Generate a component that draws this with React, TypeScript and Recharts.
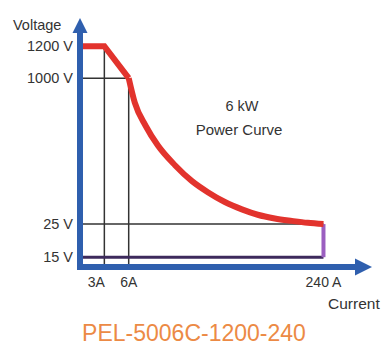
import React from 'react';
import { ComposedChart, Line, XAxis, YAxis, ReferenceLine, ReferenceDot } from 'recharts';

// This is a schematic chart, the axes are not to scale. Values are kept in chart
// units (x 0-115, y 0-95) and the real ratings only show up as tick labels.
const currentTicks = [10, 20, 100];
const currentLabels = ['3A', '6A', '240 A'];
const voltageTicks = [4, 17.5, 77, 90];
const voltageLabels = ['15 V', '25 V', '1000 V', '1200 V'];

// max voltage / max current corner up to 6A
const limitX = [0, 10, 20];
const limitY = [90, 90, 77];

// 6 kW power curve down to 240 A
const curveX = [20, 22.5, 27, 32, 39, 46, 52.5, 59.5, 66.5, 73, 80, 87, 93.5, 100];
const curveY = [77, 67, 57.5, 49.5, 41.5, 35, 30.5, 26.5, 23.5, 21.3, 19.8, 18.8, 18, 17.5];

const BLUE = '#2f5fae';
const RED = '#e2332d';
const PURPLE = '#9b5fc0';
const FONT = '"Liberation Sans", Arial, sans-serif';

const toPoints = (xs: number[], ys: number[]) => xs.map((x, i) => ({ x, y: ys[i] }));

const lastX = curveX[curveX.length - 1];
const lastY = curveY[curveY.length - 1];
const limitData = toPoints(limitX, limitY);
const curveData = toPoints(curveX, curveY);
const minVoltData = toPoints([0, lastX], [voltageTicks[0], voltageTicks[0]]);
const maxCurrentData = toPoints([lastX, lastX], [lastY, voltageTicks[0]]);

function XTick(props: any) {
  const { x, y, payload } = props;
  const i = currentTicks.indexOf(payload.value);
  const dx = i === 0 ? -8 : 0;
  return (
    <text x={x + dx} y={y} dy="0.71em" textAnchor="middle" fill="#333" fontSize={14} fontFamily={FONT}>
      {currentLabels[i]}
    </text>
  );
}

const xArrow = (p: any) => (
  <polygon points={`${p.cx - 5},${p.cy - 8.5} ${p.cx + 12},${p.cy} ${p.cx - 5},${p.cy + 8.5}`} fill={BLUE} />
);
const yArrow = (p: any) => (
  <polygon points={`${p.cx - 7.5},${p.cy - 1} ${p.cx},${p.cy - 16} ${p.cx + 7.5},${p.cy - 1}`} fill={BLUE} />
);

const textStyle: React.CSSProperties = {
  position: 'absolute',
  fontFamily: FONT,
  color: '#333',
  lineHeight: 1,
  whiteSpace: 'nowrap',
};

export default function App() {
  return (
    <div style={{ position: 'absolute', left: 0, top: 0, width: 382, height: 347, background: '#fff' }}>
      <ComposedChart width={382} height={347} margin={{ top: 34, right: 22, bottom: 50, left: 0 }}>
        <XAxis
          type="number"
          dataKey="x"
          domain={[0, 115]}
          ticks={currentTicks}
          interval={0}
          tick={XTick}
          tickLine={false}
          tickSize={4}
          tickMargin={6}
          height={30}
          axisLine={{ stroke: BLUE, strokeWidth: 6, strokeLinecap: 'square' }}
        />
        <YAxis
          type="number"
          dataKey="y"
          domain={[0, 95]}
          ticks={voltageTicks}
          interval={0}
          width={80}
          tickLine={false}
          tickSize={3}
          tickMargin={4}
          tickFormatter={(v: number) => voltageLabels[voltageTicks.indexOf(v)]}
          tick={{ fill: '#333', fontSize: 14.5, fontFamily: FONT }}
          axisLine={{ stroke: BLUE, strokeWidth: 6, strokeLinecap: 'square' }}
        />
        <ReferenceLine segment={[{ x: currentTicks[0], y: 0 }, { x: currentTicks[0], y: voltageTicks[3] }]} stroke="#333" strokeWidth={1.5} />
        <ReferenceLine segment={[{ x: currentTicks[1], y: 0 }, { x: currentTicks[1], y: voltageTicks[2] }]} stroke="#333" strokeWidth={1.5} />
        <ReferenceLine segment={[{ x: 0, y: voltageTicks[2] }, { x: currentTicks[1], y: voltageTicks[2] }]} stroke="#333" strokeWidth={1.5} />
        <ReferenceLine segment={[{ x: 0, y: voltageTicks[1] }, { x: currentTicks[2], y: voltageTicks[1] }]} stroke="#333" strokeWidth={1.5} />
        <Line data={minVoltData} dataKey="y" type="linear" stroke="#3d2a5c" strokeWidth={3} dot={false} activeDot={false} isAnimationActive={false} />
        <Line data={maxCurrentData} dataKey="y" type="linear" stroke={PURPLE} strokeWidth={4} dot={false} activeDot={false} isAnimationActive={false} />
        <Line data={limitData} dataKey="y" type="linear" stroke={RED} strokeWidth={6} dot={false} activeDot={false} isAnimationActive={false} />
        <Line data={curveData} dataKey="y" type="monotone" stroke={RED} strokeWidth={6} dot={false} activeDot={false} isAnimationActive={false} />
        <ReferenceDot x={115} y={0} r={0} ifOverflow="visible" shape={xArrow} />
        <ReferenceDot x={0} y={95} r={0} ifOverflow="visible" shape={yArrow} />
      </ComposedChart>
      <div style={{ ...textStyle, left: 13, top: 18, fontSize: 14.5 }}>Voltage</div>
      <div style={{ ...textStyle, left: 328, top: 296, fontSize: 15.5 }}>Current</div>
      <div style={{ ...textStyle, left: 192, top: 99, width: 100, textAlign: 'center', fontSize: 14.5 }}>6 kW</div>
      <div style={{ ...textStyle, left: 189, top: 122, width: 100, textAlign: 'center', fontSize: 15 }}>Power Curve</div>
      <div style={{ ...textStyle, left: 44, top: 323, width: 300, textAlign: 'center', fontSize: 23, lineHeight: '20px', color: '#ec8a45' }}>
        PEL-5006C-1200-240
      </div>
    </div>
  );
}
